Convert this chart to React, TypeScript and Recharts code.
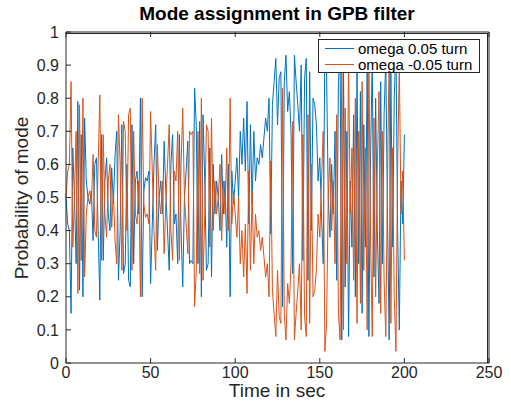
import React from 'react'
import { LineChart, Line, XAxis, YAxis } from 'recharts'

// time stamps (sec)
const TIME = Array.from({ length: 201 }, (_, i) => i)

// P(mode) for omega 0.05 turn
const OMEGA_POS = [
  0.50, 0.42, 0.40, 0.15, 0.65, 0.50, 0.30, 0.79, 0.22, 0.69,
  0.20, 0.74, 0.55, 0.50, 0.48, 0.52, 0.37, 0.60, 0.62, 0.40,
  0.19, 0.69, 0.31, 0.55, 0.62, 0.45, 0.40, 0.59, 0.48, 0.63,
  0.70, 0.25, 0.40, 0.72, 0.27, 0.30, 0.60, 0.25, 0.23, 0.72,
  0.30, 0.55, 0.58, 0.45, 0.80, 0.20, 0.52, 0.56, 0.55, 0.58,
  0.24, 0.42, 0.60, 0.72, 0.34, 0.50, 0.55, 0.45, 0.67, 0.52,
  0.40, 0.28, 0.60, 0.69, 0.42, 0.45, 0.30, 0.69, 0.40, 0.23,
  0.50, 0.58, 0.67, 0.30, 0.31, 0.30, 0.83, 0.72, 0.30, 0.73,
  0.20, 0.75, 0.55, 0.28, 0.30, 0.65, 0.26, 0.60, 0.45, 0.55,
  0.50, 0.40, 0.63, 0.45, 0.55, 0.35, 0.60, 0.20, 0.58, 0.48,
  0.55, 0.62, 0.50, 0.70, 0.60, 0.74, 0.58, 0.79, 0.42, 0.72,
  0.48, 0.70, 0.55, 0.62, 0.60, 0.66, 0.62, 0.68, 0.74, 0.70,
  0.80, 0.39, 0.78, 0.85, 0.92, 0.72, 0.86, 0.88, 0.17, 0.85,
  0.93, 0.76, 0.82, 0.70, 0.27, 0.93, 0.85, 0.78, 0.70, 0.90,
  0.31, 0.86, 0.92, 0.25, 0.88, 0.40, 0.80, 0.78, 0.72, 0.55,
  0.62, 0.45, 0.30, 0.965, 0.88, 0.50, 0.38, 0.60, 0.45, 0.70,
  0.25, 0.85, 0.93, 0.07, 0.90, 0.23, 0.70, 0.08, 0.55, 0.35,
  0.75, 0.20, 0.88, 0.30, 0.82, 0.15, 0.72, 0.35, 0.90, 0.08,
  0.62, 0.92, 0.26, 0.80, 0.40, 0.18, 0.85, 0.30, 0.75, 0.92,
  0.45, 0.07, 0.88, 0.35, 0.80, 0.965, 0.40, 0.10, 0.55, 0.42,
  0.69,
]

// P(mode) for omega -0.05 turn
const OMEGA_NEG = [
  0.50, 0.58, 0.60, 0.85, 0.35, 0.50, 0.70, 0.21, 0.78, 0.31,
  0.80, 0.26, 0.45, 0.50, 0.52, 0.48, 0.63, 0.40, 0.38, 0.60,
  0.81, 0.31, 0.69, 0.45, 0.38, 0.55, 0.60, 0.41, 0.52, 0.37,
  0.30, 0.75, 0.60, 0.28, 0.73, 0.70, 0.40, 0.75, 0.77, 0.28,
  0.70, 0.45, 0.42, 0.55, 0.20, 0.80, 0.48, 0.44, 0.45, 0.42,
  0.76, 0.58, 0.40, 0.28, 0.66, 0.50, 0.45, 0.55, 0.33, 0.48,
  0.60, 0.72, 0.40, 0.31, 0.58, 0.55, 0.70, 0.31, 0.60, 0.77,
  0.50, 0.42, 0.33, 0.70, 0.69, 0.70, 0.17, 0.28, 0.70, 0.27,
  0.80, 0.25, 0.45, 0.72, 0.70, 0.35, 0.74, 0.40, 0.55, 0.45,
  0.50, 0.60, 0.37, 0.55, 0.45, 0.65, 0.40, 0.80, 0.42, 0.52,
  0.45, 0.38, 0.50, 0.30, 0.40, 0.26, 0.42, 0.21, 0.58, 0.28,
  0.52, 0.30, 0.45, 0.38, 0.40, 0.34, 0.38, 0.32, 0.26, 0.30,
  0.20, 0.61, 0.22, 0.15, 0.08, 0.28, 0.14, 0.12, 0.83, 0.15,
  0.07, 0.24, 0.18, 0.30, 0.73, 0.07, 0.15, 0.22, 0.30, 0.10,
  0.69, 0.14, 0.08, 0.75, 0.12, 0.60, 0.20, 0.22, 0.28, 0.45,
  0.38, 0.55, 0.70, 0.035, 0.12, 0.50, 0.62, 0.40, 0.55, 0.30,
  0.75, 0.15, 0.07, 0.93, 0.10, 0.77, 0.30, 0.92, 0.45, 0.65,
  0.25, 0.80, 0.12, 0.70, 0.18, 0.85, 0.28, 0.65, 0.10, 0.92,
  0.38, 0.08, 0.74, 0.20, 0.60, 0.82, 0.15, 0.70, 0.25, 0.08,
  0.55, 0.93, 0.12, 0.65, 0.20, 0.035, 0.60, 0.90, 0.45, 0.58,
  0.31,
]

const X_TICKS = [0, 50, 100, 150, 200, 250]
const Y_TICKS = [0, 0.1, 0.2, 0.3, 0.4, 0.5, 0.6, 0.7, 0.8, 0.9, 1]

const BLUE = '#0072BD'
const ORANGE = '#D95319'
const AXIS = '#262626'
const FONT = '"Liberation Sans", Arial, Helvetica, sans-serif'

const data = TIME.map((t, i) => ({ t, pos: OMEGA_POS[i], neg: OMEGA_NEG[i] }))

const tickStyle = { fontSize: 16, fill: AXIS, fontFamily: FONT }

export default function App() {
  return (
    <div style={{ position: 'absolute', left: 0, top: 0, width: 511, height: 409, background: '#fff', fontFamily: FONT }}>
      <LineChart
        width={511}
        height={409}
        data={data}
        margin={{ top: 32, right: 22, bottom: 16, left: 16 }}
      >
        <XAxis
          xAxisId="b"
          dataKey="t"
          type="number"
          domain={[0, 250]}
          ticks={X_TICKS}
          stroke={AXIS}
          tick={tickStyle}
          tickSize={-5}
          tickMargin={9}
          height={30}
          interval={0}
        />
        <XAxis
          xAxisId="t"
          orientation="top"
          dataKey="t"
          type="number"
          domain={[0, 250]}
          ticks={X_TICKS}
          stroke={AXIS}
          mirror
          height={1}
          tickSize={5}
          tickFormatter={() => ''}
        />
        <YAxis
          yAxisId="l"
          type="number"
          domain={[0, 1]}
          ticks={Y_TICKS}
          stroke={AXIS}
          tick={tickStyle}
          tickSize={-5}
          tickMargin={12}
          width={50}
          interval={0}
          tickFormatter={(v: number) => String(v)}
        />
        <YAxis
          yAxisId="r"
          orientation="right"
          type="number"
          domain={[0, 1]}
          ticks={Y_TICKS}
          stroke={AXIS}
          mirror
          width={1}
          tickSize={5}
          tickFormatter={() => ''}
        />
        <Line
          xAxisId="b"
          yAxisId="l"
          dataKey="pos"
          stroke={BLUE}
          strokeWidth={1}
          dot={false}
          isAnimationActive={false}
        />
        <Line
          xAxisId="b"
          yAxisId="l"
          dataKey="neg"
          stroke={ORANGE}
          strokeWidth={1}
          dot={false}
          isAnimationActive={false}
        />
      </LineChart>

      {/* box around the plot */}
      <div
        style={{
          position: 'absolute',
          left: 66,
          top: 33,
          width: 422,
          height: 330,
          boxSizing: 'border-box',
          borderTop: `1px solid ${AXIS}`,
          borderRight: `1px solid ${AXIS}`,
          pointerEvents: 'none',
        }}
      />

      {/* title and axis labels */}
      <div style={{ position: 'absolute', left: 66, width: 422, top: 3, textAlign: 'center', fontSize: 19, fontWeight: 'bold', color: '#000' }}>
        Mode assignment in GPB filter
      </div>
      <div style={{ position: 'absolute', left: 66, width: 422, top: 380, textAlign: 'center', fontSize: 19, color: AXIS }}>
        Time in sec
      </div>
      <div
        style={{
          position: 'absolute',
          left: 22,
          top: 198,
          transform: 'translate(-50%, -50%) rotate(-90deg)',
          whiteSpace: 'nowrap',
          fontSize: 19,
          color: AXIS,
        }}
      >
        Probability of mode
      </div>

      {/* legend */}
      <div
        style={{
          position: 'absolute',
          left: 318,
          top: 39,
          width: 160,
          height: 32,
          background: '#fff',
          border: `1px solid ${AXIS}`,
          fontSize: 15,
          color: '#000',
          lineHeight: '15px',
        }}
      >
        {[
          { name: 'omega 0.05 turn', color: BLUE },
          { name: 'omega -0.05 turn', color: ORANGE },
        ].map((item) => (
          <div key={item.name} style={{ display: 'flex', alignItems: 'center', height: 15, marginTop: 1 }}>
            <span style={{ display: 'inline-block', width: 29, height: 1, background: item.color, marginLeft: 6, marginRight: 4 }} />
            <span style={{ whiteSpace: 'nowrap' }}>{item.name}</span>
          </div>
        ))}
      </div>
    </div>
  )
}
